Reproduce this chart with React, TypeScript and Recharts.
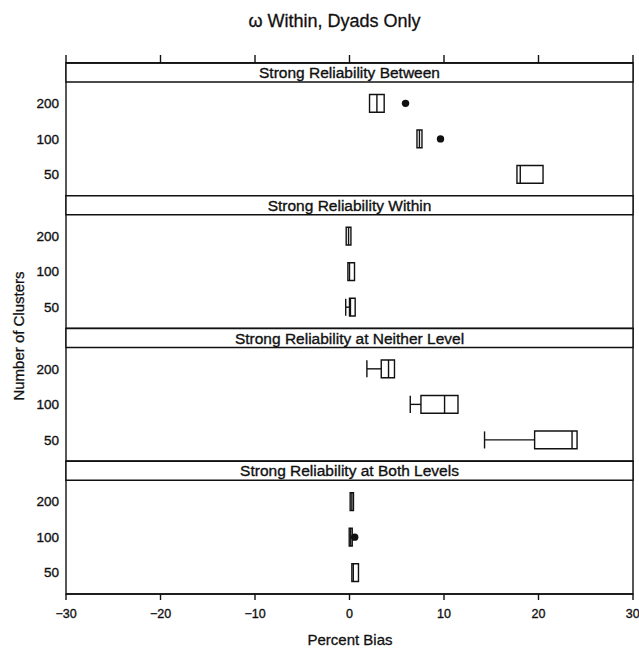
import {
  ComposedChart,
  XAxis,
  YAxis,
  Scatter,
  ReferenceArea,
  ReferenceLine,
} from "recharts";

const CLUSTERS = ["200", "100", "50"];
const PANEL_TITLES = [
  "Strong Reliability Between",
  "Strong Reliability Within",
  "Strong Reliability at Neither Level",
  "Strong Reliability at Both Levels",
];
const X_TICKS = [-30, -20, -10, 0, 10, 20, 30];

// [whisker low, q1, median, q3, whisker high] for 200 / 100 / 50 clusters
const BETWEEN = [
  [2.12, 2.12, 2.9, 3.67, 3.67],
  [7.14, 7.14, 7.4, 7.67, 7.67],
  [17.72, 17.72, 18.07, 20.48, 20.48],
];
const WITHIN = [
  [-0.35, -0.35, -0.1, 0.15, 0.15],
  [-0.17, -0.17, 0.0, 0.53, 0.53],
  [-0.4, 0.0, 0.1, 0.6, 0.6],
];
const NEITHER = [
  [1.84, 3.36, 4.13, 4.76, 4.76],
  [6.43, 7.56, 10.06, 11.48, 11.48],
  [14.29, 19.59, 23.55, 24.08, 24.08],
];
const BOTH = [
  [0.07, 0.07, 0.25, 0.42, 0.42],
  [-0.03, -0.03, 0.13, 0.29, 0.29],
  [0.25, 0.25, 0.4, 0.95, 0.95],
];

// filled dots, null where none is drawn
const BETWEEN_DOTS = [5.93, 9.63, null];
const WITHIN_DOTS = [null, null, null];
const NEITHER_DOTS = [null, null, null];
const BOTH_DOTS = [null, 0.55, null];

const PANEL_STATS = [BETWEEN, WITHIN, NEITHER, BOTH];
const PANEL_DOTS = [BETWEEN_DOTS, WITHIN_DOTS, NEITHER_DOTS, BOTH_DOTS];

// vertical layout in "row units" (lattice style: 0.6 padding around 3 rows)
const STRIP = 0.535;
const PAD = 0.6;
const BODY = 3.2;
const PANEL = BODY + STRIP;
const TOTAL = PANEL * PANEL_TITLES.length;
const BOX_HALF = 0.25;
const CAP_HALF = 0.24;

const rowY = (p: number, r: number) => p * PANEL + STRIP + PAD + r;

const yTicks: number[] = [];
PANEL_TITLES.forEach((_, p) => CLUSTERS.forEach((_c, r) => yTicks.push(rowY(p, r))));

const dotData: { x: number; y: number }[] = [];
PANEL_DOTS.forEach((dots, p) =>
  dots.forEach((d, r) => {
    if (d !== null) dotData.push({ x: d, y: rowY(p, r) });
  })
);

const INK = "#111";
const FONT = "'Liberation Sans', Arial, Helvetica, sans-serif";
// thin outline on text to get the heavier look of the scanned figure
const TEXT_WEIGHT = { stroke: INK, strokeWidth: 0.35 };

const fmtX = (v: number) => (v < 0 ? "\u2212" + Math.abs(v) : String(v));

export default function App() {
  const boxes: JSX.Element[] = [];
  PANEL_STATS.forEach((stats, p) =>
    stats.forEach(([lo, q1, med, q3, hi], r) => {
      const y = rowY(p, r);
      const k = `${p}-${r}`;
      if (lo < q1) {
        boxes.push(
          <ReferenceLine key={`wl${k}`} xAxisId="b" yAxisId="y" segment={[{ x: lo, y }, { x: q1, y }]} stroke={INK} strokeWidth={1.4} />,
          <ReferenceLine key={`cl${k}`} xAxisId="b" yAxisId="y" segment={[{ x: lo, y: y - CAP_HALF }, { x: lo, y: y + CAP_HALF }]} stroke={INK} strokeWidth={1.4} />
        );
      }
      if (hi > q3) {
        boxes.push(
          <ReferenceLine key={`wh${k}`} xAxisId="b" yAxisId="y" segment={[{ x: q3, y }, { x: hi, y }]} stroke={INK} strokeWidth={1.4} />,
          <ReferenceLine key={`ch${k}`} xAxisId="b" yAxisId="y" segment={[{ x: hi, y: y - CAP_HALF }, { x: hi, y: y + CAP_HALF }]} stroke={INK} strokeWidth={1.4} />
        );
      }
      boxes.push(
        <ReferenceArea key={`bx${k}`} xAxisId="b" yAxisId="y" x1={q1} x2={q3} y1={y - BOX_HALF} y2={y + BOX_HALF} fill="#fff" fillOpacity={1} stroke={INK} strokeWidth={1.4} />,
        <ReferenceLine key={`md${k}`} xAxisId="b" yAxisId="y" segment={[{ x: med, y: y - BOX_HALF }, { x: med, y: y + BOX_HALF }]} stroke={INK} strokeWidth={1.4} />
      );
    })
  );

  return (
    <div style={{ position: "relative", width: 639, height: 649, fontFamily: FONT, color: INK, background: "#fff" }}>
      <style>{`body{margin:0}`}</style>
      <div style={{ position: "absolute", left: 334.5, top: 12, transform: "translateX(-50%)", fontSize: 18, lineHeight: 1, whiteSpace: "nowrap", WebkitTextStroke: "0.3px #111" }}>
        ω Within, Dyads Only
      </div>
      <div style={{ position: "absolute", left: 17.5, top: 336, transform: "translate(-50%,-50%) rotate(-90deg)", fontSize: 15, lineHeight: 1, whiteSpace: "nowrap", WebkitTextStroke: "0.3px #111" }}>
        Number of Clusters
      </div>
      <div style={{ position: "absolute", left: 350, top: 632, transform: "translateX(-50%)", fontSize: 15, lineHeight: 1, whiteSpace: "nowrap", WebkitTextStroke: "0.3px #111" }}>
        Percent Bias
      </div>

      <ComposedChart width={639} height={649} margin={{ top: 43, right: 6, bottom: 25, left: 0 }}>
        <XAxis
          xAxisId="t"
          orientation="top"
          dataKey="x"
          type="number"
          domain={[-30, 30]}
          ticks={X_TICKS}
          allowDataOverflow
          tickFormatter={() => ""}
          tickSize={8}
          height={20}
          stroke={INK}
          axisLine={{ stroke: INK, strokeWidth: 1.4 }}
          tickLine={{ stroke: INK, strokeWidth: 1.4 }}
        />
        <XAxis
          xAxisId="b"
          dataKey="x"
          type="number"
          domain={[-30, 30]}
          ticks={X_TICKS}
          allowDataOverflow
          tickFormatter={fmtX}
          tickSize={6}
          tickMargin={9}
          height={30}
          stroke={INK}
          axisLine={{ stroke: INK, strokeWidth: 1.4 }}
          tickLine={{ stroke: INK, strokeWidth: 1.4 }}
          tick={{ fill: INK, fontSize: 12.5, ...TEXT_WEIGHT }}
        />
        <YAxis
          yAxisId="y"
          dataKey="y"
          type="number"
          domain={[0, TOTAL]}
          reversed
          allowDataOverflow
          ticks={yTicks}
          interval={0}
          width={66}
          axisLine={false}
          tickLine={false}
          tickSize={0}
          tickMargin={7}
          tickFormatter={(_v: number, i: number) => CLUSTERS[i % 3]}
          tick={{ fill: INK, fontSize: 13.5, ...TEXT_WEIGHT }}
        />

        {PANEL_TITLES.map((title, p) => (
          <ReferenceArea
            key={`pn${p}`}
            xAxisId="b"
            yAxisId="y"
            x1={-30}
            x2={30}
            y1={p * PANEL}
            y2={(p + 1) * PANEL}
            fill="#fff"
            fillOpacity={0}
            stroke={INK}
            strokeWidth={1.4}
          />
        ))}
        {PANEL_TITLES.map((title, p) => (
          <ReferenceArea
            key={`st${p}`}
            xAxisId="b"
            yAxisId="y"
            x1={-30}
            x2={30}
            y1={p * PANEL}
            y2={p * PANEL + STRIP}
            fill="#fff"
            fillOpacity={1}
            stroke={INK}
            strokeWidth={1.4}
            label={{ value: title, position: "center", fill: INK, fontSize: 15.5, ...TEXT_WEIGHT }}
          />
        ))}

        {boxes}

        {/* invisible copy of the dots so the top axis has a series and draws its ticks */}
        <Scatter
          xAxisId="t"
          yAxisId="y"
          data={dotData}
          isAnimationActive={false}
          shape={() => <g />}
        />
        <Scatter
          xAxisId="b"
          yAxisId="y"
          data={dotData}
          isAnimationActive={false}
          shape={(props: any) => <circle cx={props.cx} cy={props.cy} r={3.7} fill={INK} />}
        />
      </ComposedChart>
    </div>
  );
}
